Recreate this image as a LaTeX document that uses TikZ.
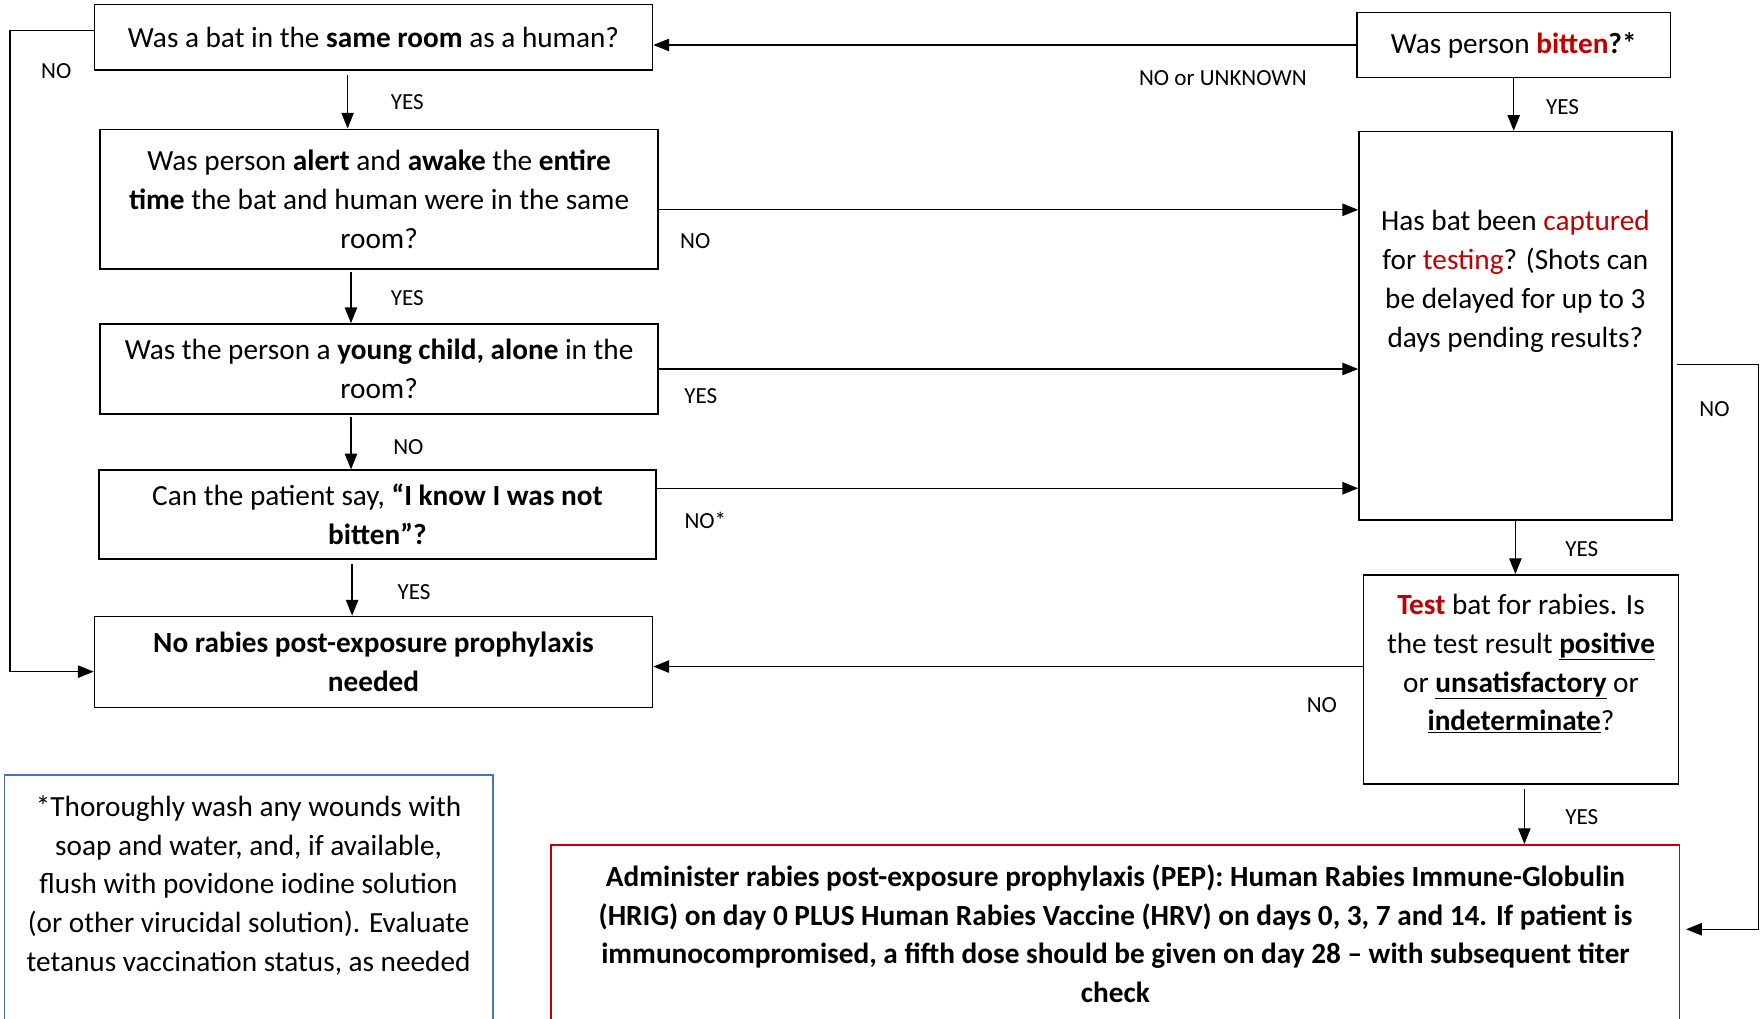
\documentclass[tikz,border=0pt]{standalone}
\usepackage{fontspec}
\setmainfont{Carlito}
\usetikzlibrary{arrows.meta}
\definecolor{dred}{RGB}{192,0,0}
\definecolor{bblue}{RGB}{68,114,196}
\begin{document}
\begin{tikzpicture}[x=1pt,y=-1pt,
  every node/.style={font=\fontsize{26}{34.5}\selectfont},
  box/.style={draw=black, line width=1.5pt, align=center, inner sep=0pt},
  txt/.style={align=center, inner sep=0pt},
  lbl/.style={font=\fontsize{20.5}{24}\selectfont, inner sep=0pt},
  arr/.style={line width=1.2pt, -{Triangle[length=14pt,width=11pt]}}]
\useasboundingbox (0,0) rectangle (1568,905);
\clip (0,0) rectangle (1568,905);
\fill[white] (0,0) rectangle (1568,905);

% left column
\node[box, minimum width=496pt, minimum height=58pt] (b1) at (332,33)
  {Was a bat in the \textbf{same room} as a human?};
\node[box, minimum width=496pt, minimum height=124pt] (b2) at (337,177)
  {Was person \textbf{alert} and \textbf{awake} the \textbf{entire}\\
   \textbf{time} the bat and human were in the same\\ room?};
\node[box, minimum width=496pt, minimum height=80pt] (b3) at (337,328)
  {Was the person a \textbf{young child, alone} in the\\ room?};
\node[box, minimum width=495pt, minimum height=79pt] (b4) at (335.5,457.5)
  {Can the patient say, \textbf{“I know I was not}\\ \textbf{bitten”?}};
\node[box, minimum width=496pt, minimum height=81pt] (b5) at (332,588.5)
  {\textbf{No rabies post-exposure prophylaxis}\\ \textbf{needed}};

% right column
\node[box, minimum width=279pt, minimum height=58pt] (bit) at (1345.5,40)
  {Was person \textbf{\textcolor{dred}{bitten}?*}};
\node[box, minimum width=278pt, minimum height=345pt] (cap) at (1347,289.5) {};
\node[txt] (captxt) at (1347,250)
  {Has bat been \textcolor{dred}{captured}\\ for \textcolor{dred}{testing}? (Shots can\\
   be delayed for up to 3\\ days pending results?};
\node[box, minimum width=280pt, minimum height=186pt] (tst) at (1352,604) {};
\node[txt] (tsttxt) at (1352,590)
  {\textbf{\textcolor{dred}{Test}} bat for rabies. Is\\ the test result \textbf{\underline{positive}}\\
   or \textbf{\underline{unsatisfactory}} or\\ \textbf{\underline{indeterminate}}?};

% bottom boxes
\node[draw=dred, line width=1.5pt, minimum width=1003pt, minimum height=209pt, inner sep=0pt] (pep) at (991.5,855.5) {};
\node[txt, font=\fontsize{26}{34.5}\selectfont\bfseries] (peptxt) at (991.5,830)
  {Administer rabies post-exposure prophylaxis (PEP): Human Rabies Immune-Globulin\\
   (HRIG) on day 0 PLUS Human Rabies Vaccine (HRV) on days 0, 3, 7 and 14. If patient is\\
   immunocompromised, a fifth dose should be given on day 28 – with subsequent titer\\ check};
\node[draw=bblue, line width=1.5pt, minimum width=434pt, minimum height=271pt, inner sep=0pt] (note) at (221,824.5) {};
\node[txt] (notetxt) at (221,787)
  {*Thoroughly wash any wounds with\\ soap and water, and, if available,\\
   flush with povidone iodine solution\\ (or other virucidal solution). Evaluate\\
   tetanus vaccination status, as needed};

% vertical arrows left column
\coordinate (s1) at ([xshift=-23pt,yshift=-4pt]b1.south);
\draw[arr] (s1) -- (s1 |- b2.north);
\coordinate (s2) at ([xshift=-25pt,yshift=-2pt]b2.south);
\draw[arr] (s2) -- (s2 |- b3.north);
\coordinate (s3) at ([xshift=-25pt,yshift=-2pt]b3.south);
\draw[arr] (s3) -- (s3 |- b4.north);
\coordinate (s4) at ([xshift=-22.5pt,yshift=-4pt]b4.south);
\draw[arr] (s4) -- (s4 |- b5.north);

% left NO loop
\coordinate (lx) at (9,597);
\draw[arr] ([yshift=6pt]b1.west) -| (lx) -- (lx -| b5.west);

% right column arrows
\draw[arr] (bit.west) -- (bit.west -| b1.east);
\draw[arr] (bit.south) -- (bit.south |- cap.north);
\coordinate (h2) at ([yshift=-9.5pt]b2.east);
\draw[arr] (h2) -- (h2 -| cap.west);
\draw[arr] (b3.east) -- (b3.east -| cap.west);
\coordinate (h4) at ([yshift=23.5pt]b4.east);
\draw[arr] (h4) -- (h4 -| cap.west);
\draw[arr] (cap.south) -- (cap.south |- tst.north);
\coordinate (h6) at ([yshift=11.5pt]tst.west);
\draw[arr] (h6) -- (h6 -| b5.east);
\coordinate (s7) at ([xshift=3pt,yshift=-4pt]tst.south);
\draw[arr] (s7) -- (s7 |- pep.north);
\coordinate (h8) at ([xshift=4pt,yshift=-34.5pt]cap.east);
\coordinate (rx) at (1563,826);
\draw[arr] (h8) -| (rx) -- ([xshift=5pt]rx -| pep.east);

% labels
\node[lbl] (l1) at (50,63) {NO};
\node[lbl] (l2) at (362,91) {YES};
\node[lbl] (l3) at (1087,69) {NO or UNKNOWN};
\node[lbl] (l4) at (1389,95) {YES};
\node[lbl] (l5) at (618,214) {NO};
\node[lbl] (l6) at (362,265) {YES};
\node[lbl] (l7) at (623,352) {YES};
\node[lbl] (l8) at (1524,364) {NO};
\node[lbl] (l9) at (363,397) {NO};
\node[lbl] (l10) at (627,463) {NO*};
\node[lbl] (l11) at (1406,488) {YES};
\node[lbl] (l12) at (368,526) {YES};
\node[lbl] (l13) at (1175,627) {NO};
\node[lbl] (l14) at (1406,726) {YES};
\end{tikzpicture}
\end{document}
